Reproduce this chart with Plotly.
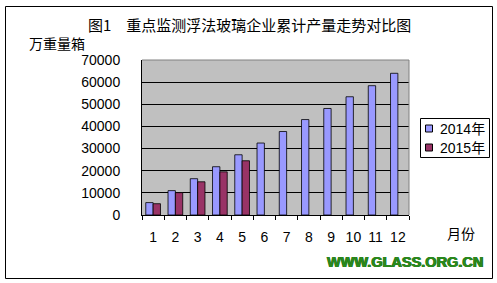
import plotly.graph_objects as go

months = ["1", "2", "3", "4", "5", "6", "7", "8", "9", "10", "11", "12"]
v2014 = [5600, 11000, 16400, 21800, 27200, 32500, 37700, 43100, 48100, 53400, 58400, 64000]
months2015 = ["1", "2", "3", "4", "5"]
v2015 = [5100, 10100, 15000, 19500, 24500]
yticks = [0, 10000, 20000, 30000, 40000, 50000, 60000, 70000]
series_names = ["2014年", "2015年"]
colors = ["#9999FF", "#993366"]

W, H = 497, 283
L, R, T, B = 142, 409, 60, 215

fig = go.Figure()
fig.add_trace(go.Bar(x=months, y=v2014, name=series_names[0],
                     marker=dict(color=colors[0], line=dict(color="#000000", width=0.8))))
fig.add_trace(go.Bar(x=months2015, y=v2015, name=series_names[1],
                     marker=dict(color=colors[1], line=dict(color="#000000", width=0.8))))

num_font = dict(family="Liberation Sans, Arial, sans-serif", size=14, color="#000000")
cjk = "Noto Sans CJK SC, sans-serif"

fig.update_layout(
    width=W, height=H,
    margin=dict(l=L, r=W - R, t=T, b=H - B),
    paper_bgcolor="#FFFFFF",
    plot_bgcolor="#C0C0C0",
    barmode="group", bargap=0.34, bargroupgap=0,
    showlegend=False,
    xaxis=dict(type="category", categoryorder="array", categoryarray=months,
               showline=True, linecolor="#000000", linewidth=1,
               ticks="outside", tickson="boundaries", ticklen=4, tickcolor="#000000",
               tickangle=0,
               tickfont=num_font, ticklabelstandoff=9, showgrid=False, zeroline=False),
    yaxis=dict(range=[0, 70000], tickvals=yticks, ticktext=[str(v) for v in yticks],
               showline=True, linecolor="#000000", linewidth=1,
               showgrid=True, gridcolor="#000000", gridwidth=1,
               ticks="", tickfont=num_font, ticklabelstandoff=18, zeroline=False),
)

# plot area top/right border
fig.add_shape(type="line", xref="x domain", yref="y domain", x0=0, x1=1, y0=1, y1=1,
              line=dict(color="#808080", width=1))
fig.add_shape(type="line", xref="x domain", yref="y domain", x0=1, x1=1, y0=0, y1=1,
              line=dict(color="#808080", width=1))

def px(x):
    return (x - L) / (R - L)

def py(y):
    return (B - y) / (B - T)

# outer chart border
fig.add_shape(type="rect", xref="paper", yref="paper", x0=px(5.5), x1=px(492.5), y0=py(278.5), y1=py(6.5),
              line=dict(color="#000000", width=1))

def note(text, x, y, font, xanchor="center"):
    fig.add_annotation(text=text, xref="paper", yref="paper", x=px(x), y=py(y),
                       xanchor=xanchor, yanchor="middle", showarrow=False, font=font)

# title & axis titles
note("图1　重点监测浮法玻璃企业累计产量走势对比图", 249, 24, dict(family=cjk, size=15, color="#000000"))
note("万重量箱", 27, 43, dict(family=cjk, size=14, color="#000000"), xanchor="left")
note("月份", 460.5, 233, dict(family=cjk, size=14, color="#000000"))
note("<b>WWW.GLASS.ORG.CN</b>", 404.5, 262,
     dict(family="Liberation Sans, Arial, sans-serif", size=14.5, color="#2A8A1C",
          shadow="0.6px 0 0 #1F7014, -0.6px 0 0 #1F7014"))

# manual legend
fig.add_shape(type="rect", xref="paper", yref="paper", x0=px(420.5), x1=px(489.5), y0=py(157.5), y1=py(118.5),
              line=dict(color="#000000", width=1), fillcolor="#FFFFFF")
for i, (nm, c) in enumerate(zip(series_names, colors)):
    yc = 128.5 + i * 19
    fig.add_shape(type="rect", xref="paper", yref="paper", x0=px(425.5), x1=px(432.5),
                  y0=py(yc + 3.5), y1=py(yc - 3.5), line=dict(color="#000000", width=1), fillcolor=c)
    note(nm, 438, yc, dict(family="Liberation Sans, Noto Sans CJK SC, sans-serif", size=14, color="#000000"),
         xanchor="left")

fig.write_html("out.html")
